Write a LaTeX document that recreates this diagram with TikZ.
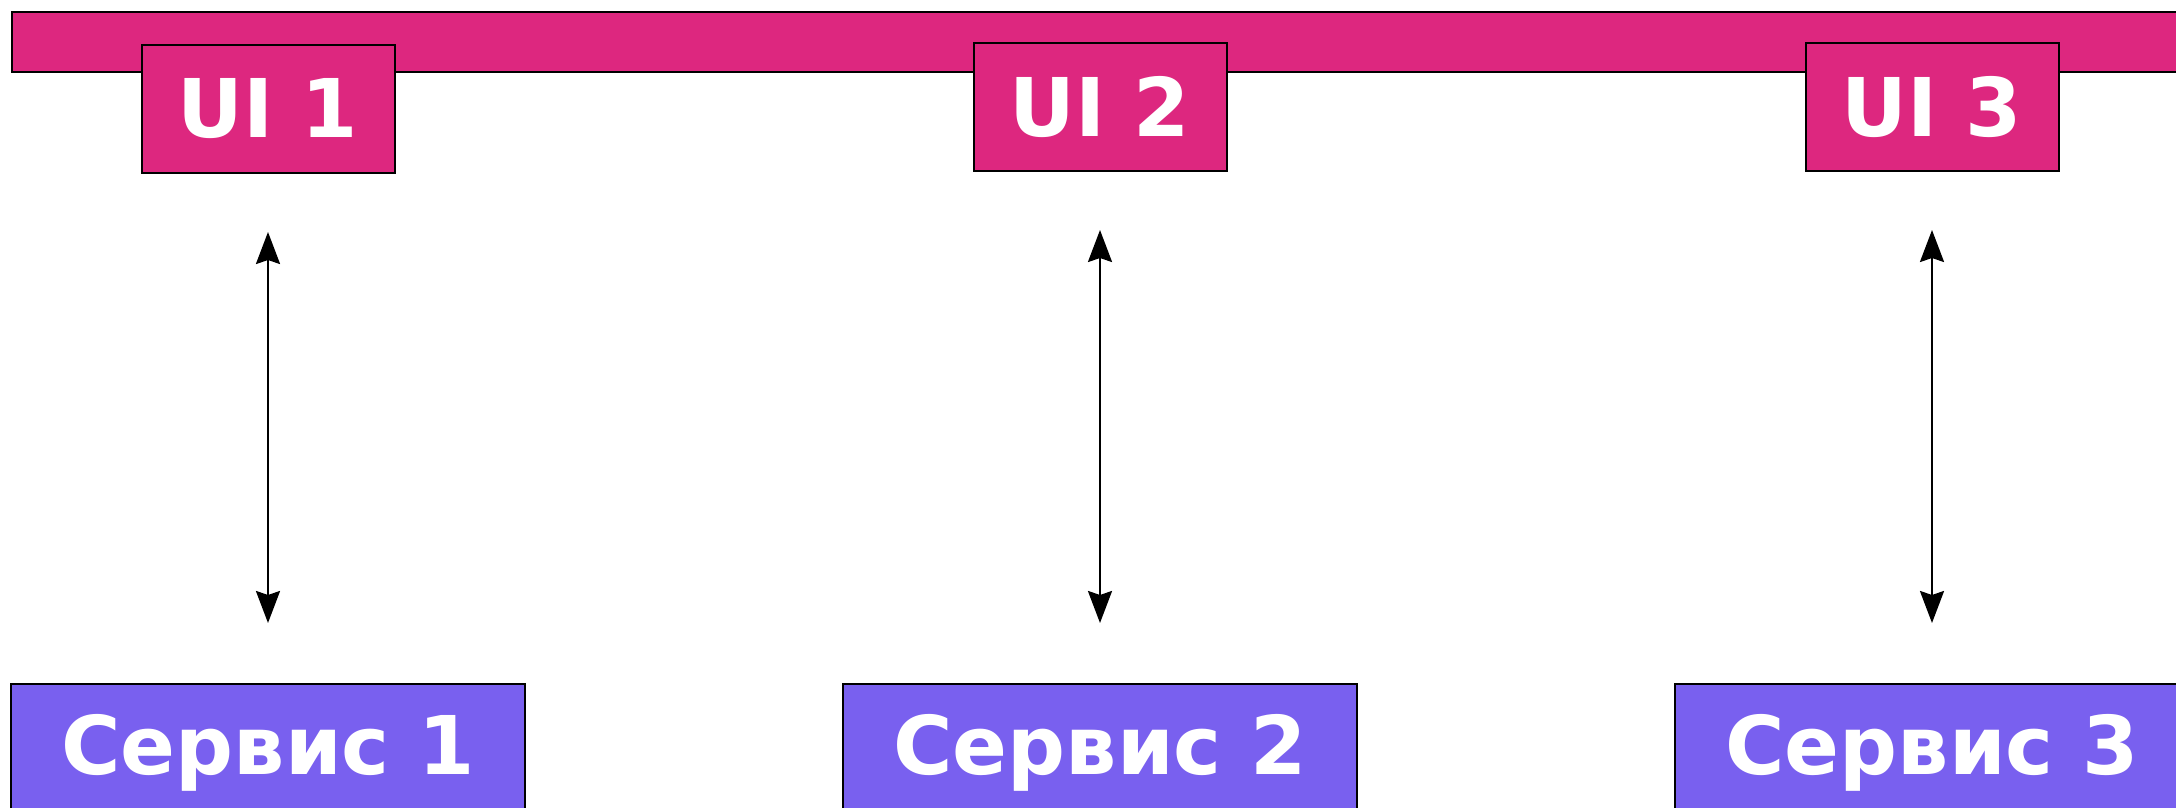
\documentclass[tikz,border=0pt]{standalone}
\usepackage{fontspec}
\setmainfont{DejaVu Sans}
\usetikzlibrary{arrows.meta}
\definecolor{uipink}{RGB}{221,39,127}
\definecolor{svcpurple}{RGB}{121,96,239}
\begin{document}
\begin{tikzpicture}[x=0.5pt,y=-0.5pt,
  box/.style={draw=black, line width=1pt, text=white, inner sep=0pt,
    font=\bfseries\fontsize{40.5}{46}\selectfont},
  uibox/.style={box, fill=uipink, minimum width=126.5pt, minimum height=64pt, anchor=north},
  svcbox/.style={box, fill=svcpurple, minimum width=257pt, minimum height=68.5pt, anchor=north},
  barbox/.style={draw=black, line width=1pt, fill=uipink, anchor=north west,
    minimum width=1200pt, minimum height=30pt, inner sep=0pt},
  conn/.style={line width=1.2pt, {Stealth[length=16pt,width=12pt,inset=2pt]}-{Stealth[length=16pt,width=12pt,inset=2pt]},
    shorten <=29pt, shorten >=30pt}]
\useasboundingbox (0,0) rectangle (2176,808);
\clip (0,0) rectangle (2176,808);
\node[barbox] (bar) at (11,11) {};
\node[uibox] (u1) at (268,44) {UI 1};
\node[uibox] (u2) at (1100,42) {UI 2};
\node[uibox] (u3) at (1932,42) {UI 3};
\node[svcbox] (s1) at (268,683) {Сервис 1};
\node[svcbox] (s2) at (1100,683) {Сервис 2};
\node[svcbox] (s3) at (1932,683) {Сервис 3};
\draw[conn] (u1) -- (s1);
\draw[conn] (u2) -- (s2);
\draw[conn] (u3) -- (s3);
\end{tikzpicture}
\end{document}
